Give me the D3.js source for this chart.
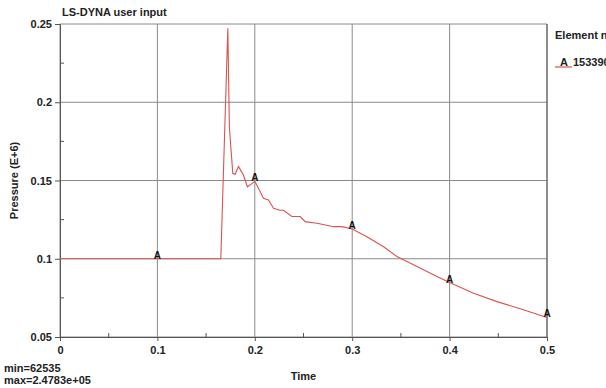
<!DOCTYPE html>
<html lang="en">
  <head>
    <meta charset="UTF-8" />
    <title>LS-DYNA user input</title>
    <script src="https://d3js.org/d3.v7.min.js"></script>
    <style>
      body {
        margin: 0;
        background: white;
        font-family: "Liberation Sans", Arial, sans-serif;
      }
      .tick-label {
        font-size: 11px;
        font-weight: bold;
        fill: #222;
      }
      .grid line {
        stroke: #8a8a8a;
        stroke-width: 1px;
      }
    </style>
  </head>
  <body>
    <div id="chart"></div>
    <script>
      // pressure history (E+6)
      const times = [
        0, 0.1, 0.1651, 0.1723, 0.1739, 0.1774, 0.1798, 0.1832, 0.1857, 0.1883,
        0.1924, 0.197, 0.2, 0.2037, 0.2089, 0.214, 0.2192, 0.226, 0.2294,
        0.2381, 0.2466, 0.2517, 0.2637, 0.2689, 0.2808, 0.2894, 0.3, 0.3151,
        0.3322, 0.3459, 0.3665, 0.387, 0.4, 0.4246, 0.4487, 0.4726, 0.5
      ];
      const pressure = [
        0.1, 0.1, 0.1, 0.2473, 0.184, 0.1546, 0.154, 0.159, 0.1563, 0.1535,
        0.146, 0.148, 0.1495, 0.145, 0.1386, 0.1375, 0.1322, 0.131, 0.131,
        0.127, 0.127, 0.1237, 0.1227, 0.122, 0.1205, 0.1205, 0.119, 0.1141,
        0.1077, 0.1014, 0.095, 0.0886, 0.0848, 0.078, 0.0726, 0.068, 0.0625
      ];
      const markerTimes = [0.1, 0.2, 0.3, 0.4, 0.5];
      const xTicks = [0, 0.1, 0.2, 0.3, 0.4, 0.5];
      const yTicks = [0.05, 0.1, 0.15, 0.2, 0.25];
      const xMinor = [0.05, 0.15, 0.25, 0.35, 0.45];
      const yMinor = [0.075, 0.125, 0.175, 0.225];

      const width = 606;
      const height = 388;
      const margin = { top: 24, right: 59, bottom: 51, left: 60 };
      const w = width - margin.left - margin.right;
      const h = height - margin.top - margin.bottom;

      const svg = d3
        .select("#chart")
        .append("svg")
        .attr("width", width)
        .attr("height", height);

      const g = svg
        .append("g")
        .attr("transform", `translate(${margin.left},${margin.top})`);

      const x = d3.scaleLinear().domain([0, 0.5]).range([0, w]);
      const y = d3.scaleLinear().domain([0.05, 0.25]).range([h, 0]);

      // grid
      g.append("g")
        .attr("class", "grid")
        .selectAll("line.v")
        .data(xTicks)
        .join("line")
        .attr("x1", (d) => x(d))
        .attr("x2", (d) => x(d))
        .attr("y1", 0)
        .attr("y2", h);

      g.append("g")
        .attr("class", "grid")
        .selectAll("line.h")
        .data(yTicks)
        .join("line")
        .attr("x1", 0)
        .attr("x2", w)
        .attr("y1", (d) => y(d))
        .attr("y2", (d) => y(d));

      // minor ticks
      g.selectAll(".xminor")
        .data(xMinor)
        .join("line")
        .attr("x1", (d) => x(d))
        .attr("x2", (d) => x(d))
        .attr("y1", h)
        .attr("y2", h - 4)
        .attr("stroke", "#555");

      g.selectAll(".yminor")
        .data(yMinor)
        .join("line")
        .attr("x1", 0)
        .attr("x2", 4)
        .attr("y1", (d) => y(d))
        .attr("y2", (d) => y(d))
        .attr("stroke", "#555");

      // axes
      const xAxis = g
        .append("g")
        .attr("transform", `translate(0,${h})`)
        .call(
          d3.axisBottom(x).tickValues(xTicks).tickSize(4).tickFormat(d3.format("~g"))
        );
      const yAxis = g
        .append("g")
        .call(
          d3.axisLeft(y).tickValues(yTicks).tickSize(5).tickFormat(d3.format("~g"))
        );
      [xAxis, yAxis].forEach((a) => {
        a.select(".domain").attr("stroke", "#555");
        a.selectAll(".tick line").attr("stroke", "#555");
        a.selectAll("text").attr("class", "tick-label").attr("font-family", null);
      });
      xAxis.selectAll("text").attr("dy", "0.9em");

      // box right edge
      g.append("line")
        .attr("x1", w)
        .attr("x2", w)
        .attr("y1", 0)
        .attr("y2", h)
        .attr("stroke", "#555");

      // pressure curve
      const line = d3
        .line()
        .x((d, i) => x(times[i]))
        .y((d) => y(d));

      g.append("path")
        .datum(pressure)
        .attr("fill", "none")
        .attr("stroke", "#d9534f")
        .attr("stroke-width", 1.1)
        .attr("d", line);

      // "A" markers on the curve
      const interp = (t) => {
        const i = d3.bisectLeft(times, t);
        if (times[i] === t) return pressure[i];
        const t0 = times[i - 1], t1 = times[i];
        return pressure[i - 1] + ((t - t0) / (t1 - t0)) * (pressure[i] - pressure[i - 1]);
      };

      g.selectAll(".marker")
        .data(markerTimes)
        .join("text")
        .attr("x", (d) => x(d))
        .attr("y", (d) => y(interp(d)))
        .attr("text-anchor", "middle")
        .attr("font-size", 10)
        .attr("font-weight", "bold")
        .attr("fill", "#111")
        .text("A");

      // titles
      svg.append("text")
        .attr("x", 62)
        .attr("y", 16)
        .attr("font-size", 11)
        .attr("font-weight", "bold")
        .attr("fill", "#222")
        .text("LS-DYNA user input");

      svg.append("text")
        .attr("x", margin.left + w / 2)
        .attr("y", 380)
        .attr("text-anchor", "middle")
        .attr("font-size", 11)
        .attr("font-weight", "bold")
        .attr("fill", "#222")
        .text("Time");

      svg.append("text")
        .attr("transform", `translate(18,${margin.top + h / 2}) rotate(-90)`)
        .attr("text-anchor", "middle")
        .attr("font-size", 11)
        .attr("font-weight", "bold")
        .attr("fill", "#222")
        .text("Pressure (E+6)");

      svg.append("text")
        .attr("x", 4)
        .attr("y", 372)
        .attr("font-size", 11)
        .attr("font-weight", "bold")
        .attr("fill", "#222")
        .text("min=62535");

      svg.append("text")
        .attr("x", 4)
        .attr("y", 384)
        .attr("font-size", 11)
        .attr("font-weight", "bold")
        .attr("fill", "#222")
        .text("max=2.4783e+05");

      // legend (clipped at the right edge, as in the original)
      svg.append("text")
        .attr("x", 555)
        .attr("y", 39)
        .attr("font-size", 11)
        .attr("font-weight", "bold")
        .attr("fill", "#222")
        .text("Element no");

      svg.append("line")
        .attr("x1", 555)
        .attr("x2", 572)
        .attr("y1", 67)
        .attr("y2", 67)
        .attr("stroke", "#d9534f")
        .attr("stroke-width", 1.2);

      svg.append("text")
        .attr("x", 560)
        .attr("y", 66)
        .attr("font-size", 11)
        .attr("font-weight", "bold")
        .attr("fill", "#222")
        .text("A");

      svg.append("text")
        .attr("x", 573)
        .attr("y", 66)
        .attr("font-size", 11)
        .attr("font-weight", "bold")
        .attr("fill", "#222")
        .text("153390");
    </script>
  </body>
</html>
